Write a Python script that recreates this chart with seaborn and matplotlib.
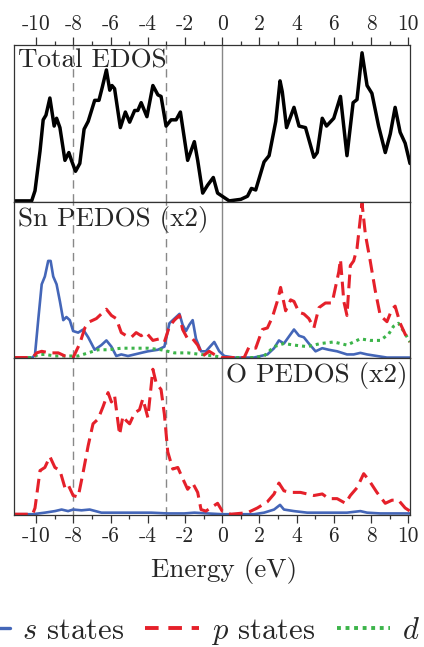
import numpy as np
import pandas as pd
import matplotlib
matplotlib.use("Agg")
import matplotlib.pyplot as plt
import seaborn as sns
from matplotlib.lines import Line2D

# ---------------- data ----------------
total_e = [-11.2, -10.25, -10.07, -9.8, -9.63, -9.48, -9.27, -9.04, -8.91, -8.73, -8.46, -8.25,
           -8.11, -7.89, -7.66, -7.43, -7.21, -6.86, -6.63, -6.45, -6.23, -6.05, -5.93, -5.79,
           -5.48, -5.21, -4.98, -4.71, -4.54, -4.36, -4.05, -3.73, -3.46, -3.29, -3.02, -2.75,
           -2.48, -2.25, -1.86, -1.5, -1.32, -1.05, -0.79, -0.48, -0.25, 0.0, 0.375, 1.0, 1.36,
           1.57, 1.8, 2.25, 2.52, 2.88, 3.11, 3.23, 3.46, 3.86, 4.13, 4.48, 4.93, 5.11, 5.38,
           5.61, 6.0, 6.36, 6.71, 7.04, 7.25, 7.52, 7.79, 8.05, 8.41, 8.77, 9.04, 9.3, 9.57,
           9.84, 10.1]
total_v = [0.0, 0.0, 0.065, 0.32, 0.52, 0.55, 0.66, 0.48, 0.53, 0.47, 0.26, 0.31,
           0.26, 0.19, 0.24, 0.46, 0.51, 0.645, 0.645, 0.73, 0.84, 0.71, 0.74, 0.72,
           0.47, 0.57, 0.505, 0.58, 0.58, 0.63, 0.54, 0.74, 0.68, 0.67, 0.48, 0.52,
           0.52, 0.57, 0.26, 0.38, 0.26, 0.05, 0.10, 0.15, 0.05, 0.03, 0.0, 0.01, 0.03,
           0.08, 0.07, 0.25, 0.29, 0.51, 0.77, 0.70, 0.47, 0.60, 0.48, 0.47, 0.28, 0.31, 0.53,
           0.48, 0.53, 0.67, 0.29, 0.63, 0.65, 0.95, 0.74, 0.69, 0.48, 0.31, 0.43, 0.60, 0.44,
           0.37, 0.24]

sn_s_e = [-11.2, -10.2, -10.07, -9.89, -9.71, -9.54, -9.36, -9.23, -9.09, -8.91, -8.73, -8.55,
          -8.38, -8.2, -8.02, -7.75, -7.48, -7.21, -6.86, -6.5, -6.23, -5.96, -5.7, -5.43,
          -5.07, -4.71, -4.36, -4.0, -3.46, -3.11, -2.84, -2.57, -2.3, -2.13, -1.95, -1.77,
          -1.59, -1.41, -1.14, -0.88, -0.43, -0.16, 0.11, 0.64, 1.71, 2.43, 2.79, 3.05, 3.32,
          3.86, 4.13, 4.39, 4.66, 5.02, 5.38, 5.73, 6.18, 6.71, 7.07, 7.43, 7.79, 8.32, 8.86,
          10.1]
sn_s_v = [0.0, 0.0, 0.02, 0.25, 0.47, 0.52, 0.62, 0.62, 0.52, 0.47, 0.36, 0.24,
          0.26, 0.24, 0.17, 0.16, 0.18, 0.13, 0.05, 0.08, 0.11, 0.07, 0.01, 0.02,
          0.01, 0.02, 0.03, 0.04, 0.05, 0.07, 0.22, 0.25, 0.28, 0.21, 0.17, 0.21,
          0.24, 0.12, 0.04, 0.04, 0.10, 0.04, 0.01, 0.0, 0.0, 0.02, 0.06, 0.11, 0.09,
          0.18, 0.14, 0.13, 0.09, 0.04, 0.06, 0.05, 0.04, 0.02, 0.02, 0.03, 0.02, 0.01, 0.0,
          0.0]

sn_p_e = [-11.2, -10.2, -9.98, -9.71, -9.27, -8.82, -8.46, -8.02, -7.66, -7.39, -7.13, -6.77,
          -6.5, -6.23, -5.96, -5.7, -5.43, -5.16, -4.89, -4.63, -4.36, -4.09, -3.73, -3.38,
          -3.11, -2.84, -2.57, -2.3, -2.13, -1.86, -1.59, -1.32, -1.05, -0.7, -0.43, -0.07,
          0.64, 1.18, 1.45, 1.8, 2.16, 2.43, 2.7, 2.96, 3.14, 3.41, 3.68, 3.86, 4.13, 4.39,
          4.66, 4.93, 5.2, 5.55, 5.91, 6.09, 6.27, 6.36, 6.54, 6.71, 6.89, 7.07, 7.25, 7.52,
          7.7, 7.96, 8.23, 8.5, 8.86, 9.13, 9.3, 9.57, 9.84, 10.1]
sn_p_v = [0.0, 0.0, 0.03, 0.04, 0.03, 0.03, 0.01, 0.0, 0.09, 0.19, 0.23, 0.25,
          0.28, 0.31, 0.27, 0.25, 0.16, 0.14, 0.13, 0.16, 0.14, 0.16, 0.11, 0.12,
          0.10, 0.20, 0.24, 0.27, 0.18, 0.12, 0.12, 0.08, 0.01, 0.04, 0.02, 0.0,
          0.0, 0.0, 0.07, 0.06, 0.18, 0.19, 0.26, 0.36, 0.45, 0.30, 0.37, 0.36, 0.29, 0.28,
          0.25, 0.19, 0.32, 0.35, 0.35, 0.45, 0.55, 0.63, 0.36, 0.27, 0.59, 0.62, 0.70, 0.99,
          0.79, 0.62, 0.43, 0.27, 0.23, 0.31, 0.33, 0.22, 0.15, 0.10]

sn_d_e = [-11.2, -10.2, -9.89, -9.54, -9.0, -8.29, -7.75, -7.21, -6.68, -6.14, -5.43, -4.71,
          -4.0, -3.29, -2.57, -1.86, -1.14, -0.43, 0.11, 1.0, 1.71, 2.25, 2.79, 3.32, 3.86,
          4.57, 5.29, 6.0, 6.71, 7.07, 7.43, 7.96, 8.5, 8.95, 9.21, 9.48, 9.75, 10.1]
sn_d_v = [0.0, 0.0, 0.02, 0.02, 0.01, 0.01, 0.01, 0.03, 0.05, 0.05, 0.06, 0.06,
          0.06, 0.05, 0.03, 0.03, 0.02, 0.01, 0.0, 0.0, 0.0, 0.01, 0.07, 0.09, 0.08,
          0.07, 0.09, 0.10, 0.08, 0.10, 0.12, 0.11, 0.11, 0.15, 0.20, 0.22, 0.17, 0.10]

o_p_e = [-11.2, -10.2, -10.07, -9.8, -9.54, -9.27, -9.0, -8.73, -8.46, -8.29, -8.02, -7.75,
         -7.48, -7.21, -6.95, -6.68, -6.41, -6.14, -5.96, -5.79, -5.52, -5.34, -5.16, -4.98,
         -4.71, -4.45, -4.27, -4.0, -3.73, -3.55, -3.29, -3.11, -2.93, -2.66, -2.39, -2.13,
         -1.86, -1.59, -1.32, -1.14, -0.88, -0.25, 0.0, 0.46, 1.36, 1.89, 2.43, 2.79, 3.05,
         3.32, 3.68, 4.21, 4.57, 4.93, 5.38, 5.73, 6.18, 6.63, 6.89, 7.25, 7.61, 7.88, 8.32,
         8.77, 9.13, 9.48, 9.84, 10.1]
o_p_v = [0.0, 0.0, 0.04, 0.28, 0.30, 0.37, 0.30, 0.28, 0.17, 0.19, 0.12, 0.11,
         0.27, 0.44, 0.58, 0.61, 0.69, 0.78, 0.72, 0.76, 0.51, 0.63, 0.60, 0.58,
         0.65, 0.67, 0.74, 0.62, 0.93, 0.84, 0.80, 0.64, 0.40, 0.29, 0.30, 0.23,
         0.16, 0.20, 0.14, 0.03, 0.02, 0.07, 0.02, 0.0, 0.01, 0.04, 0.08, 0.13, 0.20,
         0.15, 0.14, 0.14, 0.13, 0.12, 0.13, 0.10, 0.10, 0.07, 0.12, 0.17, 0.26, 0.22, 0.14,
         0.07, 0.09, 0.09, 0.04, 0.02]

o_s_e = [-11.2, -10.2, -9.54, -9.0, -8.64, -8.29, -8.02, -7.57, -7.13, -6.5, -5.61, -4.71,
         -3.82, -2.93, -2.04, -1.5, -0.79, 0.0, 1.71, 2.25, 2.79, 3.11, 3.32, 3.86, 4.57,
         5.29, 6.0, 6.71, 7.43, 7.79, 8.5, 10.1]
o_s_v = [0.0, 0.0, 0.01, 0.02, 0.03, 0.02, 0.03, 0.025, 0.03, 0.01, 0.01, 0.01,
         0.01, 0.005, 0.005, 0.01, 0.005, 0.0, 0.0, 0.01, 0.03, 0.06, 0.03, 0.02, 0.01,
         0.01, 0.01, 0.01, 0.02, 0.01, 0.005, 0.005]

xticks = [-10, -8, -6, -4, -2, 0, 2, 4, 6, 8, 10]
xtick_labels = ["-10", "-8", "-6", "-4", "-2", "0", "2", "4", "6", "8", "10"]
vlines_dashed = [-8, -3]
panel_titles = ["Total EDOS", "Sn PEDOS (x2)", "O PEDOS (x2)"]
legend_labels = ["$s$ states", "$p$ states", "$d$ states"]

# ---------------- style ----------------
sns.set_theme(style="white")
plt.rcParams["font.family"] = ["cmr10", "DejaVu Serif"]
plt.rcParams["mathtext.fontset"] = "cm"
plt.rcParams["axes.unicode_minus"] = False
plt.rcParams["axes.formatter.use_mathtext"] = True

BLUE = "#4466B8"
RED = "#E5202A"
GREEN = "#3CB44A"
BLACK = "#000000"
GRAY = "#888888"

W, H = 424, 647
fig = plt.figure(figsize=(W / 100, H / 100), dpi=100)
left, right = 14 / W, 410 / W
top_px, bot_px = 45, 515
ph = (bot_px - top_px) / 3
axes = []
for i in range(3):
    y0 = 1 - (top_px + ph * (i + 1)) / H
    ax = fig.add_axes([left, y0, right - left, ph / H])
    axes.append(ax)

xlim = (-11.2, 10.1)

def dfm(e, v):
    return pd.DataFrame({"E": e, "V": v})

# Panel 1: total
sns.lineplot(data=dfm(total_e, total_v), x="E", y="V", ax=axes[0], color=BLACK, lw=2.5,
             estimator=None, sort=False)
# Panel 2: Sn
sns.lineplot(data=dfm(sn_s_e, sn_s_v), x="E", y="V", ax=axes[1], color=BLUE, lw=1.9,
             estimator=None, sort=False)
sns.lineplot(data=dfm(sn_d_e, sn_d_v), x="E", y="V", ax=axes[1], color=GREEN, lw=2.2,
             estimator=None, sort=False, dashes=False)
axes[1].lines[-1].set_linestyle((0, (1.0, 1.3)))
sns.lineplot(data=dfm(sn_p_e, sn_p_v), x="E", y="V", ax=axes[1], color=RED, lw=2.2,
             estimator=None, sort=False)
axes[1].lines[-1].set_linestyle((0, (4.5, 2.2)))
# Panel 3: O
sns.lineplot(data=dfm(o_s_e, o_s_v), x="E", y="V", ax=axes[2], color=BLUE, lw=1.9,
             estimator=None, sort=False)
sns.lineplot(data=dfm(o_p_e, o_p_v), x="E", y="V", ax=axes[2], color=RED, lw=2.2,
             estimator=None, sort=False)
axes[2].lines[-1].set_linestyle((0, (4.5, 2.2)))

for i, ax in enumerate(axes):
    ax.set_xlim(*xlim)
    ax.set_ylim(-0.005, 1.0)
    ax.set_xlabel("")
    ax.set_ylabel("")
    ax.set_yticks([])
    ax.axvline(0, color=GRAY, lw=1.0, zorder=0)
    for xv in vlines_dashed:
        ax.axvline(xv, color=GRAY, lw=1.0, ls=(0, (6, 4)), zorder=0)
    for s in ax.spines.values():
        s.set_color("#333333")
        s.set_linewidth(0.9)
    ax.set_xticks(xticks)
    ax.set_xticks([x + 1 for x in xticks[:-1]], minor=True)
    ax.tick_params(axis="x", which="both", top=False, bottom=False,
                   labeltop=False, labelbottom=False)

axes[0].tick_params(axis="x", which="major", top=True, labeltop=True, direction="out",
                    length=6, width=0.9, color="#333333", labelsize=15.5, pad=2)
axes[0].tick_params(axis="x", which="minor", top=True, direction="out", length=3,
                    width=0.9, color="#333333")
axes[0].set_xticklabels(xtick_labels)
axes[2].tick_params(axis="x", which="major", bottom=True, labelbottom=True, direction="out",
                    length=6, width=0.9, color="#333333", labelsize=15.5, pad=2)
axes[2].tick_params(axis="x", which="minor", bottom=True, direction="out", length=3,
                    width=0.9, color="#333333")
axes[2].set_xticklabels(xtick_labels)
axes[2].set_xlabel("Energy (eV)", fontsize=19.5, labelpad=6)
axes[2].xaxis.set_label_coords(0.53, -0.265, transform=axes[2].transAxes)
axes[2].xaxis.label.set_va("top")

axes[0].text(0.01, 0.975, panel_titles[0], transform=axes[0].transAxes, fontsize=19.5,
             ha="left", va="top")
axes[1].text(0.01, 0.975, panel_titles[1], transform=axes[1].transAxes, fontsize=19.5,
             ha="left", va="top")
axes[2].text(0.993, 0.975, panel_titles[2], transform=axes[2].transAxes, fontsize=19.5,
             ha="right", va="top")

handles = [Line2D([], [], color=BLUE, lw=2.4),
           Line2D([], [], color=RED, lw=2.8, ls=(0, (3.5, 2.5))),
           Line2D([], [], color=GREEN, lw=2.8, ls=(0, (1.0, 1.2)))]
fig.legend(handles, legend_labels, loc="center", bbox_to_anchor=(0.545, 1 - 632 / H),
           ncol=3, frameon=False, fontsize=22, handlelength=1.75, handletextpad=0.4,
           columnspacing=0.7)

fig.savefig("out.png", dpi=100)
